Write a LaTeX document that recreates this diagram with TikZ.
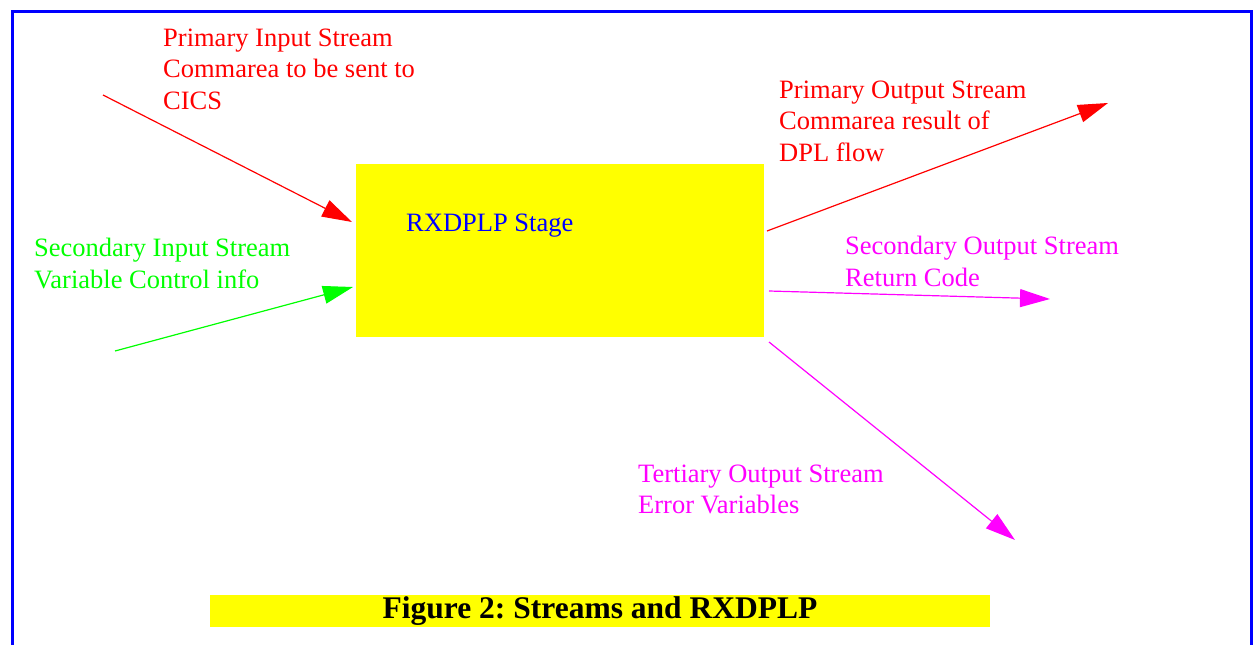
\documentclass[tikz,border=0pt]{standalone}
\usepackage{fontspec}
\setmainfont{Liberation Serif}
\usetikzlibrary{arrows.meta}
\frenchspacing

\definecolor{pureRed}{RGB}{255,0,0}
\definecolor{pureGreen}{RGB}{0,255,0}
\definecolor{pureMagenta}{RGB}{255,0,255}
\definecolor{pureBlue}{RGB}{0,0,255}
\definecolor{pureYellow}{RGB}{255,255,0}

\tikzset{
  flow/.style={line width=1.2pt, -{Triangle[length=30pt,width=18pt]}},
  label/.style={anchor=north west, inner sep=0pt, align=left,
                font=\fontsize{26.5}{31.5}\selectfont},
}

\begin{document}
\begin{tikzpicture}[x=1pt,y=-1pt]
  \useasboundingbox (0,0) rectangle (1258,645);

  % frame (open at the bottom)
  \draw[pureBlue, line width=3pt] (12,645) -- (12,11) -- (1251,11) -- (1251,645);

  % the stage box
  \node[fill=pureYellow, inner sep=0pt, minimum width=408pt, minimum height=173pt]
    (stage) at (560,250.5) {};
  \node[label, text=pureBlue] (stagelbl) at (406,214) {RXDPLP Stage};

  % stream labels
  \node[label, text=pureRed] (pinlbl) at (163,28.5)
    {Primary Input Stream\\Commarea to be sent to\\CICS};
  \node[label, text=pureGreen] (sinlbl) at (34,238)
    {Secondary Input Stream\\Variable Control info};
  \node[label, text=pureRed] (poutlbl) at (779,80.5)
    {Primary Output Stream\\Commarea result of\\DPL flow};
  \node[label, text=pureMagenta] (soutlbl) at (845,236)
    {Secondary Output Stream\\Return Code};
  \node[label, text=pureMagenta] (toutlbl) at (638,464.5)
    {Tertiary Output Stream\\Error Variables};

  % stream end points
  \coordinate (pinA) at (103,95);
  \coordinate (pinB) at (352,222);
  \coordinate (sinA) at (115,351);
  \coordinate (sinB) at (353,287);
  \coordinate (poutA) at (767,231);
  \coordinate (poutB) at (1108,103);
  \coordinate (soutA) at (769,291);
  \coordinate (soutB) at (1050,299);
  \coordinate (toutA) at (769,342);
  \coordinate (toutB) at (1015,540);

  % streams
  \draw[flow, pureRed] (pinA) -- (pinB);
  \draw[flow, pureGreen] (sinA) -- (sinB);
  \draw[flow, pureRed] (poutA) -- (poutB);
  \draw[flow, pureMagenta] (soutA) -- (soutB);
  \draw[flow, pureMagenta] (toutA) -- (toutB);

  % caption
  \node[fill=pureYellow, inner sep=0pt, minimum width=780pt, minimum height=32pt,
        font=\bfseries\fontsize{31.5}{34}\selectfont] (caption) at (600,611)
    {Figure 2: Streams and RXDPLP};
\end{tikzpicture}
\end{document}
